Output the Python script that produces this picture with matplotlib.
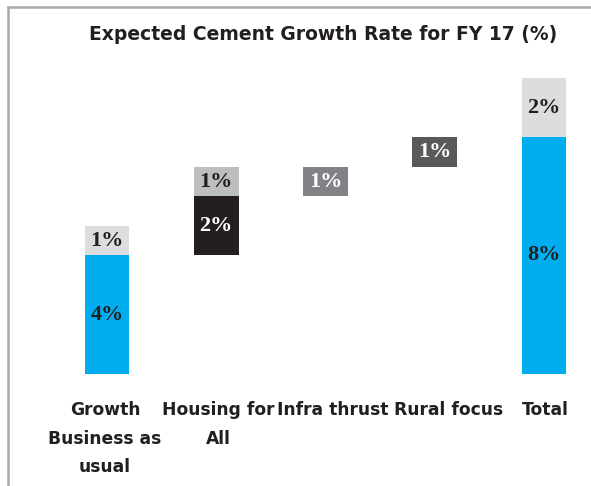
import matplotlib
matplotlib.use("Agg")
import matplotlib.pyplot as plt
from matplotlib.lines import Line2D
from matplotlib.transforms import ScaledTranslation

# ---- data ----
categories = ["Growth\nBusiness as\nusual", "Housing for\nAll", "Infra thrust", "Rural focus", "Total"]
# segments: (category index, base, value)
seg_cat = [0, 0, 1, 1, 2, 3, 4, 4]
seg_base = [0, 4, 4, 6, 6, 7, 0, 8]
seg_value = [4, 1, 2, 1, 1, 1, 8, 2]
seg_labels = ["4%", "1%", "2%", "1%", "1%", "1%", "8%", "2%"]
title = "Expected Cement Growth Rate for FY 17 (%)"

# ---- styles ----
seg_colors = ["#00AEEF", "#DCDDDF", "#231F20", "#BCBEC0", "#808285", "#58595B", "#00AEEF", "#DCDDDF"]
seg_text_colors = ["#231F20", "#231F20", "#FFFFFF", "#231F20", "#FFFFFF", "#FFFFFF", "#231F20", "#231F20"]
label_shift_px = [-2, 2, 7, 14, 1]

W, H = 591, 486
fig = plt.figure(figsize=(W / 100, H / 100), dpi=100)
ax = fig.add_axes([52.4 / W, 112.5 / H, (587.7 - 52.4) / W, 324.5 / H])
ax.set_xlim(-0.5, 4.4)
ax.set_ylim(0, 11)

ax.bar(seg_cat, seg_value, bottom=seg_base, width=0.41, color=seg_colors, linewidth=0)
for c, b, v, lab, tc in zip(seg_cat, seg_base, seg_value, seg_labels, seg_text_colors):
    ax.text(c, b + v / 2, lab, ha="center", va="center", color=tc,
            fontsize=16, fontweight="bold", family="Liberation Serif")

for s in ax.spines.values():
    s.set_visible(False)
ax.set_yticks([])
ax.set_xticks(range(len(categories)))
ax.set_xticklabels(categories, fontsize=12.3, fontweight="bold", color="#231F20",
                   family="DejaVu Sans", linespacing=1.78)
ax.tick_params(axis="x", length=0, pad=19.5)
for lbl, dx in zip(ax.get_xticklabels(), label_shift_px):
    lbl.set_transform(lbl.get_transform() + ScaledTranslation(dx / 100, 0, fig.dpi_scale_trans))

fig.text(323 / W, 1 - 35 / H, title, ha="center", va="center", fontsize=13.5,
         fontweight="bold", color="#231F20", family="DejaVu Sans")

# frame lines
fig.add_artist(Line2D([8 / W, 8 / W], [0, 1 - 7 / H], color="#A7A9AC", lw=1.8))
fig.add_artist(Line2D([8 / W, 1], [1 - 7 / H, 1 - 7 / H], color="#A7A9AC", lw=1.8))

fig.savefig("out.png", dpi=100)
